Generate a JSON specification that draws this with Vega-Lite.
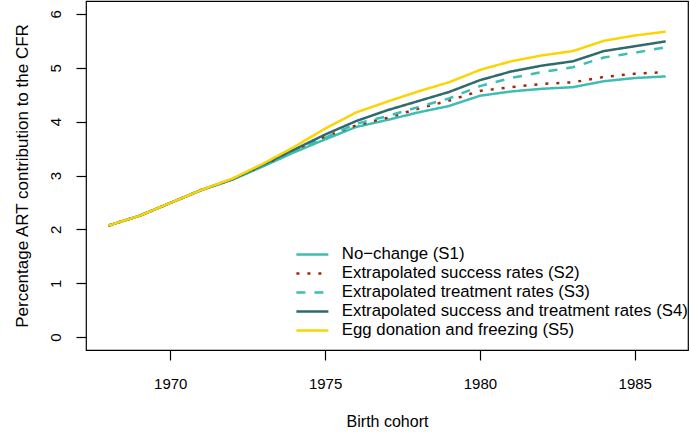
{
  "$schema": "https://vega.github.io/schema/vega-lite/v6.json",
  "width": 602,
  "height": 349,
  "autosize": {"type": "none"},
  "padding": {"left": 86, "top": 1, "right": 2, "bottom": 89},
  "background": "white",
  "config": {
    "font": "Liberation Sans",
    "view": {"stroke": "black", "strokeWidth": 1.2}
  },
  "data": {"values": [
    {"year":1968,"s":"No−change (S1)","v":2.07},{"year":1968,"s":"Extrapolated success rates (S2)","v":2.07},{"year":1968,"s":"Extrapolated treatment rates (S3)","v":2.07},{"year":1968,"s":"Extrapolated success and treatment rates (S4)","v":2.07},{"year":1968,"s":"Egg donation and freezing (S5)","v":2.07},
    {"year":1969,"s":"No−change (S1)","v":2.25},{"year":1969,"s":"Extrapolated success rates (S2)","v":2.25},{"year":1969,"s":"Extrapolated treatment rates (S3)","v":2.25},{"year":1969,"s":"Extrapolated success and treatment rates (S4)","v":2.25},{"year":1969,"s":"Egg donation and freezing (S5)","v":2.25},
    {"year":1970,"s":"No−change (S1)","v":2.49},{"year":1970,"s":"Extrapolated success rates (S2)","v":2.49},{"year":1970,"s":"Extrapolated treatment rates (S3)","v":2.49},{"year":1970,"s":"Extrapolated success and treatment rates (S4)","v":2.49},{"year":1970,"s":"Egg donation and freezing (S5)","v":2.49},
    {"year":1971,"s":"No−change (S1)","v":2.73},{"year":1971,"s":"Extrapolated success rates (S2)","v":2.73},{"year":1971,"s":"Extrapolated treatment rates (S3)","v":2.73},{"year":1971,"s":"Extrapolated success and treatment rates (S4)","v":2.73},{"year":1971,"s":"Egg donation and freezing (S5)","v":2.73},
    {"year":1972,"s":"No−change (S1)","v":2.92},{"year":1972,"s":"Extrapolated success rates (S2)","v":2.93},{"year":1972,"s":"Extrapolated treatment rates (S3)","v":2.93},{"year":1972,"s":"Extrapolated success and treatment rates (S4)","v":2.93},{"year":1972,"s":"Egg donation and freezing (S5)","v":2.94},
    {"year":1973,"s":"No−change (S1)","v":3.17},{"year":1973,"s":"Extrapolated success rates (S2)","v":3.19},{"year":1973,"s":"Extrapolated treatment rates (S3)","v":3.18},{"year":1973,"s":"Extrapolated success and treatment rates (S4)","v":3.2},{"year":1973,"s":"Egg donation and freezing (S5)","v":3.22},
    {"year":1974,"s":"No−change (S1)","v":3.43},{"year":1974,"s":"Extrapolated success rates (S2)","v":3.47},{"year":1974,"s":"Extrapolated treatment rates (S3)","v":3.45},{"year":1974,"s":"Extrapolated success and treatment rates (S4)","v":3.48},{"year":1974,"s":"Egg donation and freezing (S5)","v":3.53},
    {"year":1975,"s":"No−change (S1)","v":3.67},{"year":1975,"s":"Extrapolated success rates (S2)","v":3.72},{"year":1975,"s":"Extrapolated treatment rates (S3)","v":3.7},{"year":1975,"s":"Extrapolated success and treatment rates (S4)","v":3.76},{"year":1975,"s":"Egg donation and freezing (S5)","v":3.87},
    {"year":1976,"s":"No−change (S1)","v":3.9},{"year":1976,"s":"Extrapolated success rates (S2)","v":3.93},{"year":1976,"s":"Extrapolated treatment rates (S3)","v":3.96},{"year":1976,"s":"Extrapolated success and treatment rates (S4)","v":4.01},{"year":1976,"s":"Egg donation and freezing (S5)","v":4.17},
    {"year":1977,"s":"No−change (S1)","v":4.03},{"year":1977,"s":"Extrapolated success rates (S2)","v":4.07},{"year":1977,"s":"Extrapolated treatment rates (S3)","v":4.1},{"year":1977,"s":"Extrapolated success and treatment rates (S4)","v":4.21},{"year":1977,"s":"Egg donation and freezing (S5)","v":4.37},
    {"year":1978,"s":"No−change (S1)","v":4.17},{"year":1978,"s":"Extrapolated success rates (S2)","v":4.24},{"year":1978,"s":"Extrapolated treatment rates (S3)","v":4.27},{"year":1978,"s":"Extrapolated success and treatment rates (S4)","v":4.38},{"year":1978,"s":"Egg donation and freezing (S5)","v":4.56},
    {"year":1979,"s":"No−change (S1)","v":4.29},{"year":1979,"s":"Extrapolated success rates (S2)","v":4.39},{"year":1979,"s":"Extrapolated treatment rates (S3)","v":4.43},{"year":1979,"s":"Extrapolated success and treatment rates (S4)","v":4.55},{"year":1979,"s":"Egg donation and freezing (S5)","v":4.73},
    {"year":1980,"s":"No−change (S1)","v":4.48},{"year":1980,"s":"Extrapolated success rates (S2)","v":4.57},{"year":1980,"s":"Extrapolated treatment rates (S3)","v":4.66},{"year":1980,"s":"Extrapolated success and treatment rates (S4)","v":4.77},{"year":1980,"s":"Egg donation and freezing (S5)","v":4.96},
    {"year":1981,"s":"No−change (S1)","v":4.56},{"year":1981,"s":"Extrapolated success rates (S2)","v":4.64},{"year":1981,"s":"Extrapolated treatment rates (S3)","v":4.81},{"year":1981,"s":"Extrapolated success and treatment rates (S4)","v":4.93},{"year":1981,"s":"Egg donation and freezing (S5)","v":5.12},
    {"year":1982,"s":"No−change (S1)","v":4.61},{"year":1982,"s":"Extrapolated success rates (S2)","v":4.7},{"year":1982,"s":"Extrapolated treatment rates (S3)","v":4.92},{"year":1982,"s":"Extrapolated success and treatment rates (S4)","v":5.04},{"year":1982,"s":"Egg donation and freezing (S5)","v":5.23},
    {"year":1983,"s":"No−change (S1)","v":4.64},{"year":1983,"s":"Extrapolated success rates (S2)","v":4.73},{"year":1983,"s":"Extrapolated treatment rates (S3)","v":5.01},{"year":1983,"s":"Extrapolated success and treatment rates (S4)","v":5.12},{"year":1983,"s":"Egg donation and freezing (S5)","v":5.31},
    {"year":1984,"s":"No−change (S1)","v":4.75},{"year":1984,"s":"Extrapolated success rates (S2)","v":4.83},{"year":1984,"s":"Extrapolated treatment rates (S3)","v":5.19},{"year":1984,"s":"Extrapolated success and treatment rates (S4)","v":5.31},{"year":1984,"s":"Egg donation and freezing (S5)","v":5.5},
    {"year":1985,"s":"No−change (S1)","v":4.81},{"year":1985,"s":"Extrapolated success rates (S2)","v":4.89},{"year":1985,"s":"Extrapolated treatment rates (S3)","v":5.28},{"year":1985,"s":"Extrapolated success and treatment rates (S4)","v":5.4},{"year":1985,"s":"Egg donation and freezing (S5)","v":5.6},
    {"year":1986,"s":"No−change (S1)","v":4.84},{"year":1986,"s":"Extrapolated success rates (S2)","v":4.92},{"year":1986,"s":"Extrapolated treatment rates (S3)","v":5.38},{"year":1986,"s":"Extrapolated success and treatment rates (S4)","v":5.49},{"year":1986,"s":"Egg donation and freezing (S5)","v":5.67}
  ]},
  "mark": {"type": "line", "strokeWidth": 2.5, "clip": true},
  "encoding": {
    "x": {"field": "year", "type": "quantitative", "title": "Birth cohort",
      "scale": {"domain": [1967.28, 1986.72], "nice": false, "zero": false},
      "axis": {"values": [1970, 1975, 1980, 1985], "format": "d", "grid": false, "domain": false, "tickColor": "black", "tickSize": 10, "tickWidth": 1.2, "labelColor": "black", "titleColor": "black", "labelFont": "Liberation Sans", "titleFont": "Liberation Sans", "titleFontWeight": "normal", "labelFontSize": 15, "titleFontSize": 16, "labelPadding": 16, "titlePadding": 22}},
    "y": {"field": "v", "type": "quantitative", "title": "Percentage ART contribution to the CFR",
      "scale": {"domain": [-0.24, 6.24], "nice": false, "zero": false},
      "axis": {"values": [0, 1, 2, 3, 4, 5, 6], "grid": false, "domain": false, "tickColor": "black", "tickSize": 10, "tickWidth": 1.2, "labelColor": "black", "titleColor": "black", "labelFont": "Liberation Sans", "titleFont": "Liberation Sans", "titleFontWeight": "normal", "labelFontSize": 15, "titleFontSize": 17, "labelAngle": 270, "labelAlign": "center", "labelBaseline": "bottom", "labelPadding": 13, "titlePadding": 17}},
    "color": {"field": "s", "type": "nominal",
      "scale": {"domain": ["No−change (S1)", "Extrapolated success rates (S2)", "Extrapolated treatment rates (S3)", "Extrapolated success and treatment rates (S4)", "Egg donation and freezing (S5)"],
        "range": ["#3dbdb3", "#a3260c", "#3dbdb3", "#2f6a6c", "#fcd404"]},
      "legend": {"orient": "none", "legendX": 218, "legendY": 245, "title": null, "symbolType": "M-2.5,0H2.5", "symbolSize": 164, "symbolStrokeWidth": 2.5, "labelFontSize": 16.8, "labelFont": "Liberation Sans", "labelColor": "black", "labelOffset": 21, "rowPadding": 1, "labelLimit": 500, "padding": 0}},
    "strokeDash": {"field": "s", "type": "nominal",
      "scale": {"domain": ["No−change (S1)", "Extrapolated success rates (S2)", "Extrapolated treatment rates (S3)", "Extrapolated success and treatment rates (S4)", "Egg donation and freezing (S5)"],
        "range": [[1, 0], [3, 8], [9, 9], [1, 0], [1, 0]]},
      "legend": {"orient": "none", "legendX": 218, "legendY": 245, "title": null, "symbolType": "M-2.5,0H2.5", "symbolSize": 164, "symbolStrokeWidth": 2.5, "labelFontSize": 16.8, "labelFont": "Liberation Sans", "labelColor": "black", "labelOffset": 21, "rowPadding": 1, "labelLimit": 500, "padding": 0}},
    "order": {"field": "year"}
  }
}
